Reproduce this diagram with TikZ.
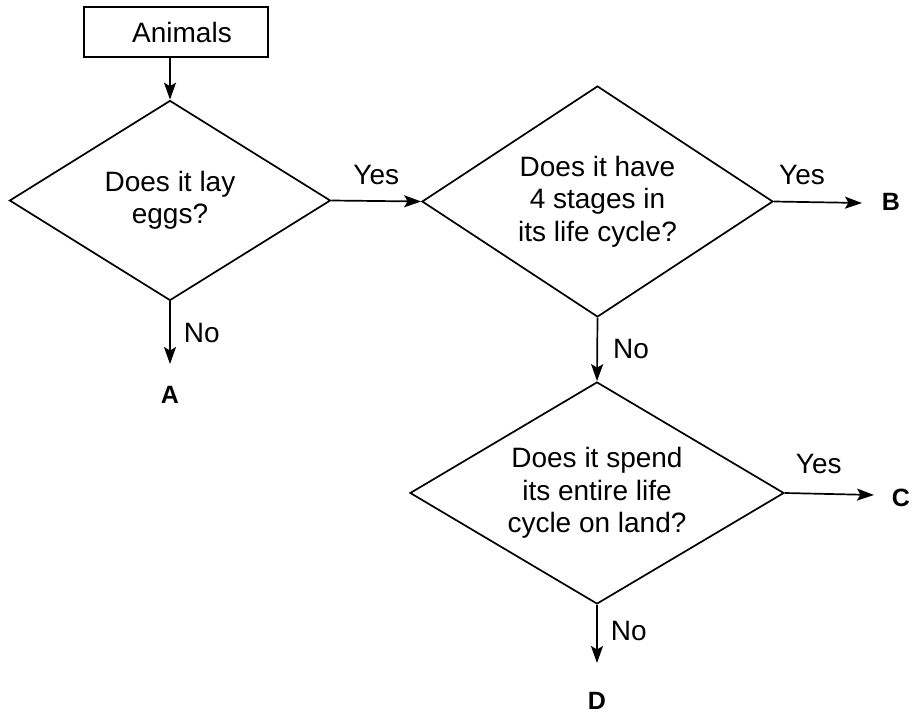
\documentclass[tikz,border=0pt]{standalone}
\usepackage{fontspec}
\setmainfont{Liberation Sans}
\usetikzlibrary{shapes.geometric,arrows.meta}
\begin{document}
\begin{tikzpicture}[x=1pt,y=-1pt,
  every node/.style={inner sep=0pt},
  txt/.style={font=\fontsize{28}{32.5}\selectfont,align=center},
  endlab/.style={font=\fontsize{25}{28}\selectfont\bfseries},
  startbox/.style={draw,line width=1.6pt,minimum width=184pt,minimum height=50pt,txt},
  decision/.style={draw,diamond,line width=1.7pt,txt},
  conn/.style={line width=1.7pt,-{Stealth[length=17pt,width=12pt,inset=3.5pt]}}]
\useasboundingbox (0,0) rectangle (914,715);
\node[startbox] (start) at (176,32) {\hspace*{12pt}Animals};
\node[decision,minimum width=321pt,minimum height=200pt,aspect=1.6] (d1) at (170,200.5) {Does it lay\\eggs?};
\node[decision,minimum width=351pt,minimum height=231pt,aspect=1.52] (d2) at (597.5,201.5) {Does it have\\4 stages in\\its life cycle?};
\node[decision,minimum width=374pt,minimum height=222pt,aspect=1.68] (d3) at (597,493) {Does it spend\\its entire life\\cycle on land?};
\coordinate (aend) at (170,364);
\coordinate (bend) at (862,203);
\coordinate (cend) at (874,495);
\coordinate (dend) at (597,663);
\node[endlab] (A) at (170,395) {A};
\node[endlab] (B) at (891,202) {B};
\node[endlab] (C) at (901,498) {C};
\node[endlab] (D) at (597,701) {D};
\draw[conn] (d1.north |- start.south) -- (d1.north);
\draw[conn] (d1.east) -- (d2.west) node[txt,midway,above=15pt] (y1) {Yes};
\draw[conn] (d1.south) -- (aend) node[txt,pos=0.5,right=13pt] (n1) {No};
\draw[conn] (d2.east) -- (bend) node[txt,pos=0.32,above=16pt] (y2) {Yes};
\draw[conn] (d2.south) -- (d3.north) node[txt,pos=0.5,right=15pt] (n2) {No};
\draw[conn] (d3.east) -- (cend) node[txt,pos=0.38,above=19pt] (y3) {Yes};
\draw[conn] (d3.south) -- (dend) node[txt,pos=0.45,right=13pt] (n3) {No};
\end{tikzpicture}
\end{document}
